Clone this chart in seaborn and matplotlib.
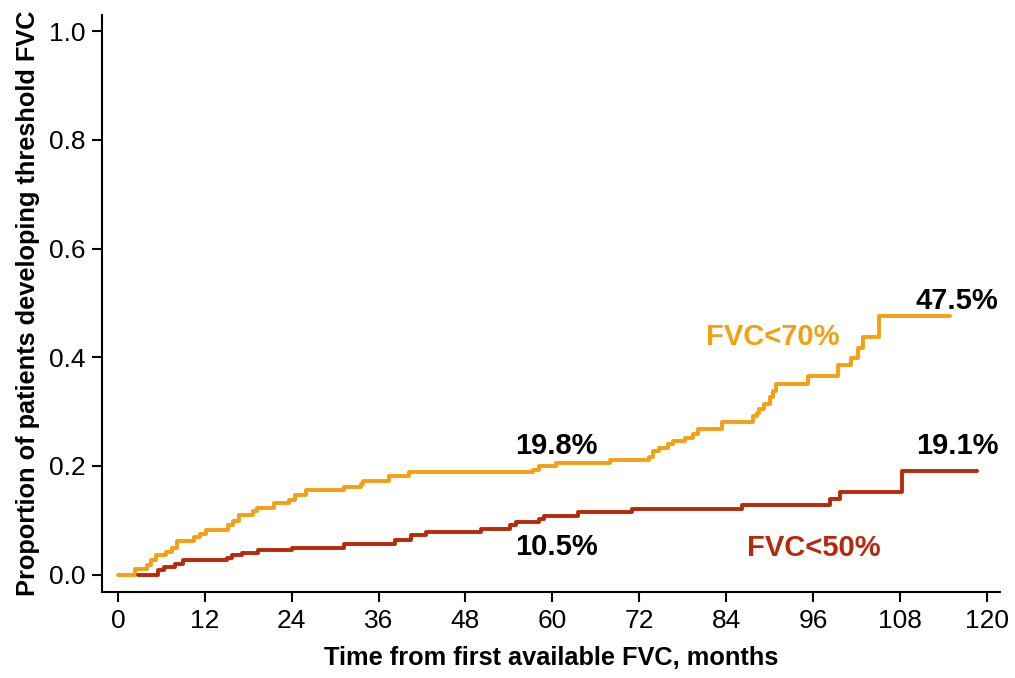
import numpy as np
import pandas as pd
import matplotlib
matplotlib.use("Agg")
import matplotlib.pyplot as plt
import seaborn as sns

# ---- data ----
# FVC<70% cumulative incidence step function
t70 = [0, 2.4, 4.0, 4.6, 5.3, 6.6, 7.5, 8.2, 10.5, 11.3, 12.2, 15.2, 15.9, 16.7,
       18.6, 19.2, 21.6, 23.6, 24.5, 26.0, 31.2, 33.6, 33.9, 37.4, 40.2, 57.3,
       58.2, 60.5, 67.9, 73.3, 73.9, 74.8, 76.0, 76.6, 78.3, 79.4, 80.1, 83.5,
       87.7, 88.2, 88.6, 89.3, 90.0, 90.5, 90.9, 95.3, 99.5, 101.3, 102.2, 102.9,
       105.1, 114.9]
p70 = [0, 0.011, 0.018, 0.026, 0.035, 0.041, 0.048, 0.062, 0.069, 0.075, 0.082,
       0.092, 0.098, 0.110, 0.116, 0.122, 0.132, 0.138, 0.147, 0.155, 0.161,
       0.167, 0.173, 0.181, 0.188, 0.193, 0.199, 0.205, 0.210, 0.216, 0.227,
       0.233, 0.241, 0.246, 0.251, 0.259, 0.267, 0.281, 0.291, 0.298, 0.305,
       0.314, 0.327, 0.337, 0.351, 0.365, 0.386, 0.398, 0.417, 0.438, 0.475,
       0.475]

# FVC<50% cumulative incidence step function
t50 = [2.8, 5.6, 6.3, 7.9, 9.0, 15.1, 15.8, 17.2, 19.3, 24.1, 31.2, 38.3, 40.5,
       42.5, 50.1, 54.1, 55.0, 58.2, 58.8, 63.5, 71.0, 86.2, 98.3, 99.7, 108.3,
       118.6]
p50 = [0.0, 0.009, 0.013, 0.019, 0.026, 0.031, 0.036, 0.040, 0.045, 0.049,
       0.057, 0.064, 0.072, 0.078, 0.084, 0.091, 0.097, 0.102, 0.108, 0.115,
       0.121, 0.128, 0.139, 0.152, 0.191, 0.191]

groups = ["FVC<70%", "FVC<50%"]
colors = ["#F4A012", "#B7290B"]
xticks = [0, 12, 24, 36, 48, 60, 72, 84, 96, 108, 120]
yticks = [0.0, 0.2, 0.4, 0.6, 0.8, 1.0]

# annotations
pct_labels = ["47.5%", "19.8%", "19.1%", "10.5%"]
pct_x = [115.9, 60.6, 115.9, 60.6]
pct_y = [0.504, 0.237, 0.237, 0.051]
grp_label_x = [90.4, 96.1]
grp_label_y = [0.4375, 0.048]

df = pd.concat([
    pd.DataFrame({"time": t70, "prob": p70, "group": groups[0]}),
    pd.DataFrame({"time": t50, "prob": p50, "group": groups[1]}),
], ignore_index=True)

sns.set_style("ticks")
plt.rcParams["font.family"] = ["Liberation Sans", "DejaVu Sans"]

fig = plt.figure(figsize=(10.15, 6.78), dpi=100)
ax = fig.add_axes([0.1005, 0.127, 0.8845, 0.851])

sns.lineplot(data=df, x="time", y="prob", hue="group", palette=colors,
             hue_order=groups, drawstyle="steps-post", estimator=None,
             sort=False, legend=False, linewidth=2.8, ax=ax)

ax.set_xlim(-2.2, 121.8)
ax.set_ylim(-0.032, 1.03)
ax.set_xticks(xticks)
ax.set_xticklabels([str(v) for v in xticks])
ax.set_yticks(yticks)
ax.set_yticklabels([f"{v:.1f}" for v in yticks])
ax.tick_params(axis="both", which="major", labelsize=19, length=7, width=1.5,
               color="black", labelcolor="black", pad=5)
for s in ["top", "right"]:
    ax.spines[s].set_visible(False)
for s in ["left", "bottom"]:
    ax.spines[s].set_linewidth(1.5)
    ax.spines[s].set_color("black")

ax.set_xlabel("Time from first available FVC, months", fontsize=18.3,
              fontweight="bold", color="black", labelpad=10)
ax.set_ylabel("Proportion of patients developing threshold FVC", fontsize=18.3,
              fontweight="bold", color="black", labelpad=6)

for txt, x, y in zip(pct_labels, pct_x, pct_y):
    ax.text(x, y, txt, fontsize=21, fontweight="bold", color="black",
            ha="center", va="center")
for g, c, x, y in zip(groups, colors, grp_label_x, grp_label_y):
    ax.text(x, y, g, fontsize=21, fontweight="bold", color=c,
            ha="center", va="center")

fig.savefig("out.png", dpi=100)
